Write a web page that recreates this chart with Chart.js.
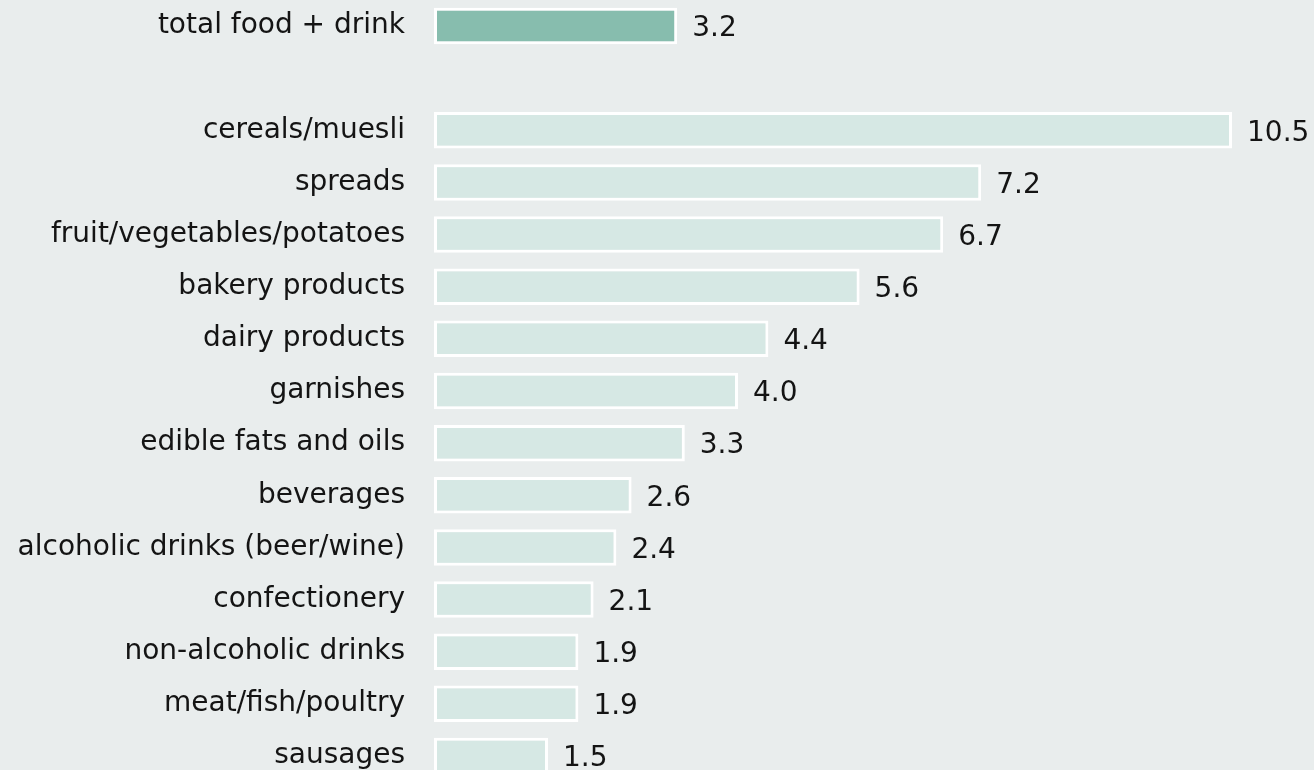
<!DOCTYPE html>
<html>
<head>
<meta charset="utf-8">
<script src="https://cdn.jsdelivr.net/npm/chart.js@4"></script>
<style>
  html, body { margin: 0; padding: 0; background: #e9eded; overflow: hidden; }
  canvas { display: block; }
</style>
</head>
<body>
<canvas id="c" width="1314" height="782"></canvas>
<script>
// Categories, top to bottom; the empty string leaves a gap row under the total
const categories = [
  'total food + drink', '',
  'cereals/muesli', 'spreads', 'fruit/vegetables/potatoes', 'bakery products',
  'dairy products', 'garnishes', 'edible fats and oils', 'beverages',
  'alcoholic drinks (beer/wine)', 'confectionery', 'non-alcoholic drinks',
  'meat/fish/poultry', 'sausages'
];
const values = [3.2, null, 10.5, 7.2, 6.7, 5.6, 4.4, 4.0, 3.3, 2.6, 2.4, 2.1, 1.9, 1.9, 1.5];
const valueLabels = ['3.2', '', '10.5', '7.2', '6.7', '5.6', '4.4', '4.0', '3.3', '2.6', '2.4', '2.1', '1.9', '1.9', '1.5'];

const FONT = '"DejaVu Sans", Verdana, sans-serif';
const FONT_SIZE = 28;
const TOTAL_COLOR = '#87bdae';
const ITEM_COLOR = '#d6e8e4';

// Writes each bar's value just past its end
const valueLabelPlugin = {
  id: 'valueLabels',
  afterDatasetsDraw(chart) {
    const ctx = chart.ctx;
    const meta = chart.getDatasetMeta(0);
    ctx.save();
    ctx.font = FONT_SIZE + 'px ' + FONT;
    ctx.fillStyle = '#141414';
    ctx.textAlign = 'left';
    ctx.textBaseline = 'middle';
    meta.data.forEach((bar, i) => {
      if (values[i] == null) return;
      ctx.fillText(valueLabels[i], bar.x + 15, bar.y + 3);
    });
    ctx.restore();
  }
};

new Chart(document.getElementById('c'), {
  type: 'bar',
  data: {
    labels: categories,
    datasets: [{
      data: values,
      backgroundColor: values.map((v, i) => i === 0 ? TOTAL_COLOR : ITEM_COLOR),
      borderColor: '#ffffff',
      borderWidth: 3,
      borderSkipped: false,
      categoryPercentage: 1.0,
      barPercentage: 0.7
    }]
  },
  options: {
    indexAxis: 'y',
    responsive: false,
    animation: false,
    layout: { padding: { left: 0, right: 6, top: 0, bottom: 0 } },
    plugins: { legend: { display: false }, tooltip: { enabled: false } },
    scales: {
      x: {
        min: 0, max: 11.5,
        display: false,
        grid: { display: false }
      },
      y: {
        grid: { display: false, drawTicks: false },
        border: { display: false },
        ticks: {
          color: '#141414',
          font: { family: FONT, size: FONT_SIZE },
          padding: 29,
          autoSkip: false
        },
        afterFit(scale) {
          scale.width = 434;
          scale.paddingTop = 0;
          scale.paddingBottom = 0;
        }
      }
    }
  },
  plugins: [valueLabelPlugin]
});
</script>
</body>
</html>
